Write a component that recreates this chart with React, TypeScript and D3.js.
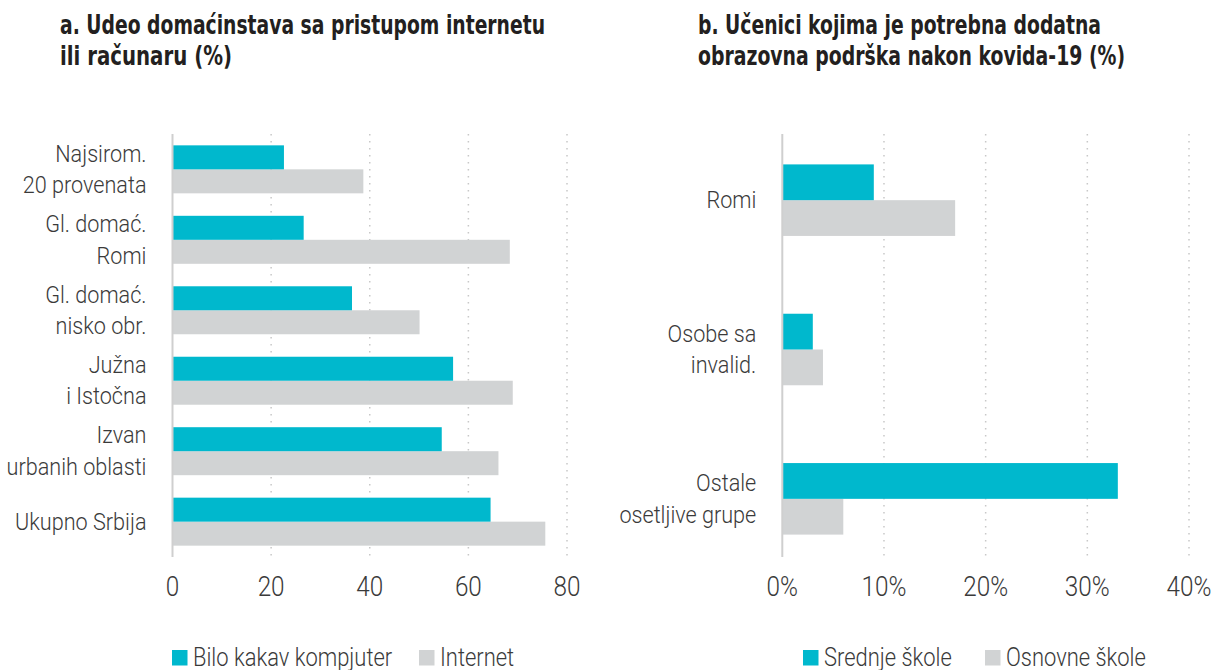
import { useEffect, useRef } from 'react';
import * as d3 from 'd3';

// Panel a data
const groupsA = [
    ["Najsirom.", "20 provenata"],
    ["Gl. domać.", "Romi"],
    ["Gl. domać.", "nisko obr."],
    ["Južna", "i Istočna"],
    ["Izvan", "urbanih oblasti"],
    ["Ukupno Srbija"]
];
const computerA = [22.6, 26.6, 36.4, 56.9, 54.6, 64.5];
const internetA = [38.7, 68.4, 50.1, 69.0, 66.1, 75.6];
const ticksA = [0, 20, 40, 60, 80];
const seriesA = ["Bilo kakav kompjuter", "Internet"];

// Panel b data
const groupsB = [
    ["Romi"],
    ["Osobe sa", "invalid."],
    ["Ostale", "osetljive grupe"]
];
const secondaryB = [9, 3, 33];
const primaryB = [17, 4, 6];
const ticksB = [0, 10, 20, 30, 40];
const seriesB = ["Srednje škole", "Osnovne škole"];

const CYAN = "#00b8cd";
const GRAY = "#d1d3d4";
const TEXT = "#3a3a3a";
const TITLE_FONT = "'DejaVu Sans Condensed', 'Liberation Sans', sans-serif";
const FONT = "Roboto, 'DejaVu Sans Condensed', sans-serif";

// squeeze text horizontally so the fallback font looks condensed
function condense(sel, factor) {
    sel.each(function () {
        const len = this.getComputedTextLength();
        d3.select(this)
            .attr("textLength", len * factor)
            .attr("lengthAdjust", "spacingAndGlyphs");
    });
}

function drawPanel(svg, opts) {
    const g = svg.append("g");

    const x = d3.scaleLinear().domain(opts.domain).range(opts.xRange);
    const y = d3.scaleBand()
        .domain(opts.groups.map((d, i) => String(i)))
        .range(opts.yRange)
        .paddingInner(opts.padInner)
        .paddingOuter(opts.padOuter);
    const sub = d3.scaleBand().domain(["0", "1"]).range([0, y.bandwidth()]);

    // Title
    opts.title.forEach((line, i) => {
        g.append("text")
            .attr("x", opts.titleX)
            .attr("y", 34 + i * 31)
            .attr("font-family", TITLE_FONT)
            .attr("font-weight", "bold")
            .attr("font-size", 26)
            .attr("fill", "#231f20")
            .attr("textLength", opts.titleWidths[i])
            .attr("lengthAdjust", "spacingAndGlyphs")
            .text(line);
    });

    // Dotted gridlines
    g.append("g")
        .selectAll("line")
        .data(opts.ticks.filter(t => t !== 0))
        .enter()
        .append("line")
            .attr("x1", d => x(d))
            .attr("x2", d => x(d))
            .attr("y1", opts.axisTop)
            .attr("y2", opts.axisBottom)
            .attr("stroke", "#c8c8c8")
            .attr("stroke-width", 1.5)
            .attr("stroke-dasharray", "1.5,5.5");

    // Bars
    const rows = opts.groups.map((d, i) => ({ i, a: opts.first[i], b: opts.second[i] }));
    const bars = g.append("g");
    bars.selectAll("rect.b")
        .data(rows)
        .enter()
        .append("rect")
            .attr("x", x(0))
            .attr("y", d => y(String(d.i)) + sub("1"))
            .attr("width", d => x(d.b) - x(0))
            .attr("height", sub.bandwidth())
            .style("fill", GRAY);
    bars.selectAll("rect.a")
        .data(rows)
        .enter()
        .append("rect")
            .attr("x", x(0))
            .attr("y", d => y(String(d.i)) + sub("0"))
            .attr("width", d => x(d.a) - x(0))
            .attr("height", sub.bandwidth())
            .style("fill", CYAN);

    // Axis line at zero
    g.append("line")
        .attr("x1", x(0))
        .attr("x2", x(0))
        .attr("y1", opts.axisTop)
        .attr("y2", opts.axisBottom)
        .attr("stroke", "#cfcfcf")
        .attr("stroke-width", 2);

    // Category labels
    opts.groups.forEach((lines, i) => {
        const cy = y(String(i)) + y.bandwidth() / 2;
        lines.forEach((line, j) => {
            const t = g.append("text")
                .attr("x", x(0) - 26)
                .attr("y", cy + 8 + (j - (lines.length - 1) / 2) * 31.5)
                .attr("font-family", FONT)
                .attr("font-weight", 300)
                .attr("font-size", 23)
                .attr("fill", TEXT)
                .attr("text-anchor", "end")
                .text(line);
            condense(t, 0.94);
        });
    });

    // Tick labels
    const ticks = g.append("g")
        .selectAll("text")
        .data(opts.ticks)
        .enter()
        .append("text")
            .attr("x", d => x(d))
            .attr("y", 596)
            .attr("text-anchor", "middle")
            .attr("font-family", FONT)
            .attr("font-weight", 300)
            .attr("font-size", 27)
            .attr("fill", TEXT)
            .text(opts.tickFormat);
    condense(ticks, 0.9);

    // Legend
    opts.series.forEach((name, i) => {
        const lx = opts.legendX[i];
        g.append("rect")
            .attr("x", lx)
            .attr("y", 650)
            .attr("width", 15.5)
            .attr("height", 15.5)
            .style("fill", i === 0 ? CYAN : GRAY);
        const t = g.append("text")
            .attr("x", lx + 21)
            .attr("y", 665.5)
            .attr("font-family", FONT)
            .attr("font-weight", 300)
            .attr("font-size", 25.5)
            .attr("fill", TEXT)
            .text(name);
        condense(t, 0.86);
    });
}

function App() {
    const ref = useRef(null);

    useEffect(() => {
        document.body.style.margin = "0";
        const el = ref.current;
        el.innerHTML = "";

        const svg = d3.select(el).append("svg")
            .attr("width", 1217)
            .attr("height", 670)
            .style("display", "block");

        drawPanel(svg, {
            title: ["a. Udeo domaćinstava sa pristupom internetu", "ili računaru (%)"],
            titleX: 60,
            titleWidths: [485, 172],
            groups: groupsA,
            first: computerA,
            second: internetA,
            ticks: ticksA,
            domain: [0, 80],
            xRange: [172.5, 567],
            yRange: [134, 557],
            padInner: 0.319,
            padOuter: 0.161,
            axisTop: 134,
            axisBottom: 557,
            tickFormat: d => String(d),
            series: seriesA,
            legendX: [172, 419]
        });

        drawPanel(svg, {
            title: ["b. Učenici kojima je potrebna dodatna", "obrazovna podrška nakon kovida-19 (%)"],
            titleX: 698,
            titleWidths: [403, 427],
            groups: groupsB,
            first: secondaryB,
            second: primaryB,
            ticks: ticksB,
            domain: [0, 40],
            xRange: [782.3, 1189],
            yRange: [142, 557],
            padInner: 0.521,
            padOuter: 0.15,
            axisTop: 134,
            axisBottom: 557,
            tickFormat: d => d + "%",
            series: seriesB,
            legendX: [803, 985]
        });
    }, []);

    return <div ref={ref}></div>;
}

export default App;
